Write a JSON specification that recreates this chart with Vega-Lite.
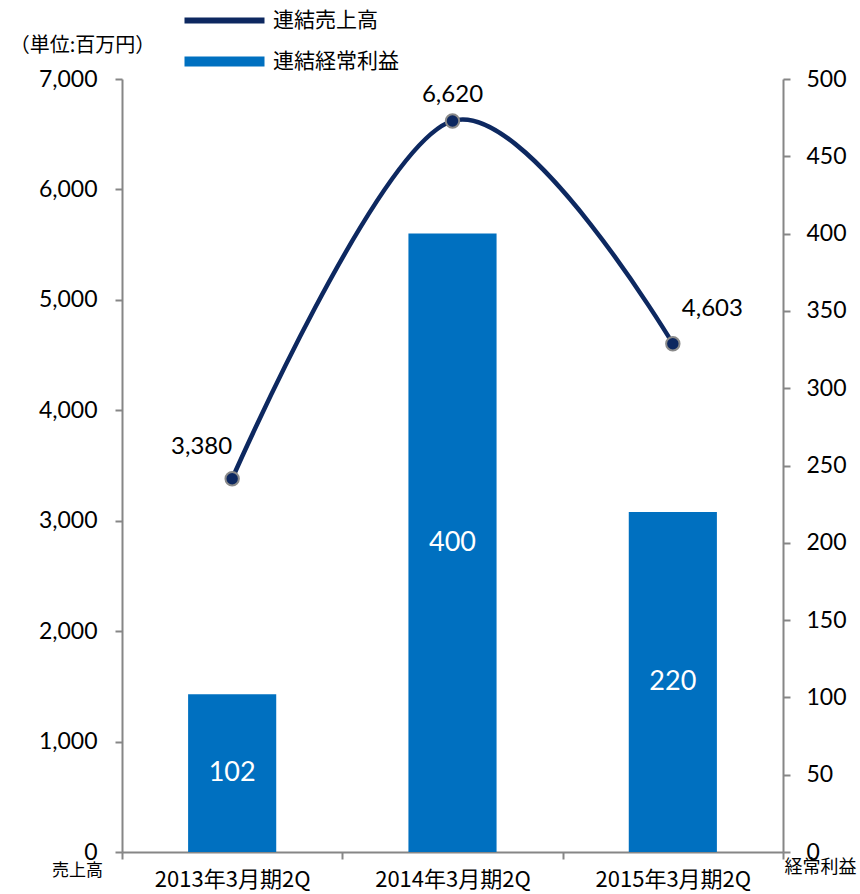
{
  "$schema": "https://vega.github.io/schema/vega-lite/v6.json",
  "width": 661,
  "height": 773,
  "autosize": {"type": "none"},
  "padding": {"left": 122, "top": 79, "right": 77, "bottom": 42},
  "config": {
    "view": {"stroke": null},
    "font": "Lato",
    "axis": {
      "domainColor": "#868686",
      "domainWidth": 2,
      "tickColor": "#868686",
      "tickWidth": 2,
      "tickSize": 7,
      "labelColor": "#000000",
      "titleColor": "#000000",
      "grid": false,
      "titleFontWeight": "normal",
      "titleFont": "Noto Sans CJK JP",
      "titleAngle": 0,
      "titleAlign": "center",
      "titleBaseline": "middle"
    }
  },
  "data": {
    "values": [
      {"period": "2013年3月期2Q", "sales": 3380, "profit": 102},
      {"period": "2014年3月期2Q", "sales": 6620, "profit": 400},
      {"period": "2015年3月期2Q", "sales": 4603, "profit": 220}
    ]
  },
  "encoding": {
    "x": {
      "field": "period",
      "type": "nominal",
      "sort": null,
      "scale": {"paddingInner": 0, "paddingOuter": 0},
      "axis": {
        "title": null,
        "labelAngle": 0,
        "tickBand": "extent",
        "labelPadding": 10,
        "labelFontSize": 22,
        "labelFont": "Noto Sans CJK JP"
      }
    }
  },
  "layer": [
    {
      "mark": {"type": "bar", "width": {"band": 0.4}},
      "encoding": {
        "y": {
          "field": "profit",
          "type": "quantitative",
          "scale": {"domain": [0, 500]},
          "axis": {
            "orient": "right",
            "values": [0, 50, 100, 150, 200, 250, 300, 350, 400, 450, 500],
            "labelFontSize": 23,
            "labelPadding": 16,
            "title": "経常利益",
            "titleFontSize": 18,
            "titleX": 37,
            "titleY": 788
          }
        },
        "color": {
          "datum": "連結経常利益",
          "type": "nominal",
          "scale": {"domain": ["連結売上高", "連結経常利益"], "range": ["#0d2860", "#0070c0"]},
          "legend": {
            "title": null,
            "orient": "none",
            "legendX": 92,
            "legendY": -69,
            "padding": 0,
            "symbolType": "stroke",
            "symbolSize": 6400,
            "rowPadding": 8,
            "labelFontSize": 21,
            "labelFont": "Noto Sans CJK JP",
            "labelOffset": 38,
            "labelColor": "#000000",
            "encode": {
              "symbols": {
                "update": {
                  "strokeWidth": {"signal": "datum.value === '連結売上高' ? 6 : 10"},
                  "stroke": {"signal": "datum.value === '連結売上高' ? '#0d2860' : '#0070c0'"},
                  "fill": {"value": "transparent"},
                  "opacity": {"value": 1}
                }
              }
            }
          }
        }
      }
    },
    {
      "mark": {"type": "line", "interpolate": "cardinal", "strokeWidth": 4.5},
      "encoding": {
        "y": {
          "field": "sales",
          "type": "quantitative",
          "scale": {"domain": [0, 7000]},
          "axis": {
            "orient": "left",
            "values": [0, 1000, 2000, 3000, 4000, 5000, 6000, 7000],
            "format": ",.0f",
            "labelFontSize": 23,
            "labelPadding": 18,
            "title": "（単位:百万円）",
            "titleFontSize": 20,
            "titleX": -40,
            "titleY": -34
          }
        },
        "color": {
          "datum": "連結売上高",
          "type": "nominal",
          "scale": {"domain": ["連結売上高", "連結経常利益"], "range": ["#0d2860", "#0070c0"]},
          "legend": {
            "title": null,
            "orient": "none",
            "legendX": 92,
            "legendY": -69,
            "padding": 0,
            "symbolType": "stroke",
            "symbolSize": 6400,
            "rowPadding": 8,
            "labelFontSize": 21,
            "labelFont": "Noto Sans CJK JP",
            "labelOffset": 38,
            "labelColor": "#000000",
            "encode": {
              "symbols": {
                "update": {
                  "strokeWidth": {"signal": "datum.value === '連結売上高' ? 6 : 10"},
                  "stroke": {"signal": "datum.value === '連結売上高' ? '#0d2860' : '#0070c0'"},
                  "fill": {"value": "transparent"},
                  "opacity": {"value": 1}
                }
              }
            }
          }
        }
      }
    },
    {
      "mark": {"type": "circle", "size": 180, "fill": "#0d2860", "stroke": "#8a8a8a", "strokeWidth": 2, "opacity": 1},
      "encoding": {
        "y": {"field": "sales", "type": "quantitative", "scale": {"domain": [0, 7000]}, "axis": null}
      }
    },
    {
      "transform": [{"filter": "datum.period === '2013年3月期2Q'"}],
      "mark": {"type": "text", "align": "right", "baseline": "middle", "dx": 0, "dy": -32, "fontSize": 24, "color": "#000000"},
      "encoding": {
        "y": {
          "field": "sales",
          "type": "quantitative",
          "scale": {"domain": [0, 7000]},
          "axis": {
            "orient": "left",
            "labels": false,
            "ticks": false,
            "domain": false,
            "title": "売上高",
            "titleFontSize": 17,
            "titleX": -45,
            "titleY": 791
          }
        },
        "text": {"field": "sales", "type": "quantitative", "format": ","}
      }
    },
    {
      "transform": [{"filter": "datum.period === '2014年3月期2Q'"}],
      "mark": {"type": "text", "align": "center", "baseline": "middle", "dy": -26, "fontSize": 24, "color": "#000000"},
      "encoding": {
        "y": {"field": "sales", "type": "quantitative", "scale": {"domain": [0, 7000]}, "axis": null},
        "text": {"field": "sales", "type": "quantitative", "format": ","}
      }
    },
    {
      "transform": [{"filter": "datum.period === '2015年3月期2Q'"}],
      "mark": {"type": "text", "align": "left", "baseline": "middle", "dx": 9, "dy": -35, "fontSize": 24, "color": "#000000"},
      "encoding": {
        "y": {"field": "sales", "type": "quantitative", "scale": {"domain": [0, 7000]}, "axis": null},
        "text": {"field": "sales", "type": "quantitative", "format": ","}
      }
    },
    {
      "mark": {"type": "text", "align": "center", "baseline": "middle", "fontSize": 27, "color": "#ffffff"},
      "encoding": {
        "y": {"field": "profit", "type": "quantitative", "scale": {"domain": [0, 1000]}, "axis": null},
        "text": {"field": "profit", "type": "quantitative"}
      }
    }
  ],
  "resolve": {"scale": {"y": "independent"}}
}
